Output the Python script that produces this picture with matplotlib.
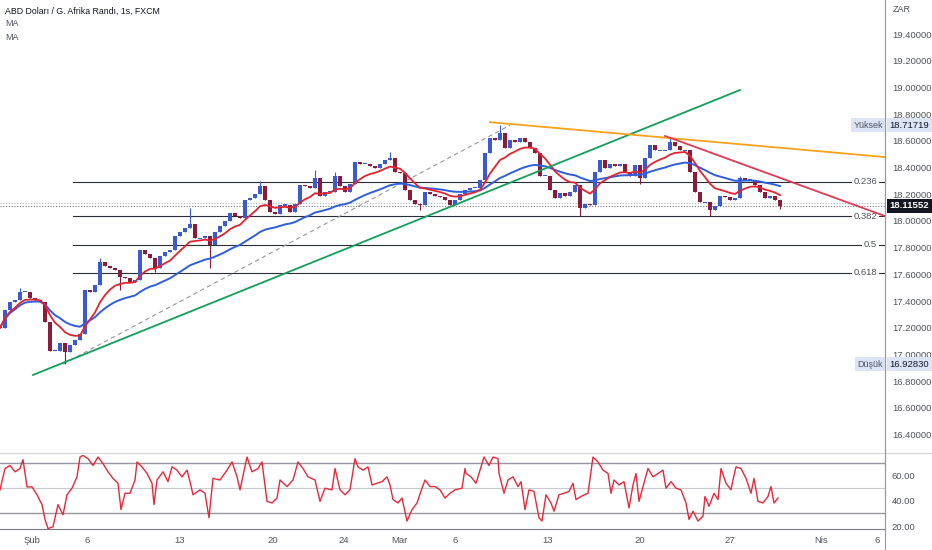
import numpy as np
import pandas as pd
import matplotlib
matplotlib.use("Agg")
import matplotlib.pyplot as plt
from matplotlib.lines import Line2D
from matplotlib.transforms import blended_transform_factory

plt.rcParams['font.family'] = ['Liberation Sans', 'DejaVu Sans']

# sampled closes, one every 5 time units (approx. 6 hourly candles)
closes = [17.20, 17.33, 17.39, 17.41, 17.47, 17.47, 17.42, 17.41, 17.39, 17.24,
          17.03, 17.03, 17.09, 17.02, 17.07, 17.11, 17.15, 17.48, 17.47, 17.52,
          17.69, 17.66, 17.65, 17.63, 17.58, 17.57, 17.54, 17.56, 17.78, 17.75,
          17.72, 17.65, 17.74, 17.77, 17.78, 17.89, 17.92, 17.95, 17.98, 17.87,
          17.87, 17.89, 17.82, 17.92, 17.96, 18.00, 18.06, 18.04, 18.02, 18.16,
          18.17, 18.20, 18.26, 18.16, 18.07, 18.05, 18.12, 18.12, 18.07, 18.13,
          18.27, 18.26, 18.25, 18.32, 18.19, 18.22, 18.22, 18.34, 18.26, 18.22,
          18.28, 18.44, 18.43, 18.43, 18.41, 18.40, 18.43, 18.46, 18.47, 18.37,
          18.36, 18.23, 18.16, 18.13, 18.12, 18.22, 18.20, 18.19, 18.18, 18.16,
          18.12, 18.16, 18.20, 18.23, 18.25, 18.25, 18.31, 18.51, 18.62, 18.61,
          18.66, 18.55, 18.61, 18.59, 18.62, 18.59, 18.55, 18.51, 18.34, 18.34,
          18.23, 18.17, 18.21, 18.19, 18.22, 18.27, 18.10, 18.13, 18.12, 18.37,
          18.46, 18.40, 18.43, 18.41, 18.43, 18.37, 18.34, 18.42, 18.32, 18.47,
          18.57, 18.53, 18.53, 18.53, 18.59, 18.56, 18.53, 18.53, 18.37, 18.22,
          18.14, 18.14, 18.08, 18.11, 18.19, 18.18, 18.16, 18.17, 18.32, 18.31,
          18.31, 18.27, 18.22, 18.17, 18.19, 18.16, 18.11552]

# wick extremes (sample index -> price)
wick_highs = {4: 17.50, 20: 17.72, 38: 18.10, 52: 18.30, 63: 18.38, 67: 18.37,
              78: 18.52, 100: 18.71719, 134: 18.62, 148: 18.34}
wick_lows = {13: 16.9283, 24: 17.48, 31: 17.62, 42: 17.65, 84: 18.08,
             116: 18.04, 128: 18.28, 142: 18.04, 156: 18.09}

rsi_t = [0, 5, 10, 15, 20, 23, 27, 32, 37, 42, 45, 48, 53, 58, 63, 67, 72, 77, 80, 83,
         88, 93, 98, 103, 108, 113, 118, 121, 125, 130, 135, 137, 142, 147, 152, 154,
         157, 163, 168, 172, 177, 182, 187, 190, 193, 200, 205, 209, 213, 220, 227,
         232, 237, 240, 247, 252, 258, 262, 267, 272, 277, 280, 287, 293, 298, 303,
         308, 315, 320, 325, 332, 335, 340, 345, 350, 355, 358, 363, 368, 372, 377,
         382, 387, 390, 393, 398, 402, 407, 412, 417, 422, 425, 430, 435, 440, 445,
         450, 455, 462, 465, 466, 471, 476, 481, 484, 489, 493, 498, 499, 504, 508,
         513, 518, 521, 525, 529, 534, 539, 542, 546, 551, 554, 559, 564, 569, 573,
         576, 581, 588, 593, 598, 603, 608, 611, 614, 619, 624, 629, 633, 636, 639,
         644, 648, 653, 658, 663, 666, 671, 676, 681, 686, 689, 693, 698, 703, 705,
         709, 714, 718, 721, 726, 731, 733, 736, 741, 746, 751, 754, 758, 763, 768,
         771, 774, 778]
rsi_v = [48.7, 65.6, 68, 63, 65.6, 72.6, 51, 51, 44.8, 37, 25.3, 18, 19.5, 37, 29, 44.8,
         50, 59, 74.7, 76, 73.4, 68, 74.7, 69.5, 63, 57.8, 53.9, 33, 46, 46, 56.5, 70.8,
         66.9, 61.7, 53.9, 37, 56.5, 63, 55.2, 66.9, 64.3, 59, 64.3, 55.2, 44.8, 48.7,
         46, 26.6, 57.8, 56.5, 64.3, 70.8, 59, 48.7, 74.7, 63, 65.6, 70.8, 39.6, 38.3,
         42.2, 56.5, 51.3, 56.5, 70.8, 65.6, 59, 56.5, 39.6, 50, 48.7, 65.6, 48.7, 44.8,
         48.7, 73.4, 66.9, 64.3, 66.9, 52.6, 53.9, 55.2, 59, 52.6, 41, 38.3, 42.2, 24,
         33, 38.3, 50, 56.5, 51.3, 51.3, 48.7, 42.2, 46, 48.7, 50, 65.6, 61.7, 59, 53.9,
         66.9, 74.7, 68, 74.7, 73.4, 61.7, 46, 56.5, 59, 51.3, 55.2, 33, 48.7, 47.4,
         26.6, 24, 44.8, 38.3, 31.8, 44.8, 46, 47.4, 53.9, 41, 43.5, 46, 74.7, 70.8,
         64.3, 61.7, 46, 56.5, 52.6, 55.2, 34.4, 52.6, 61.7, 39.6, 53.9, 65.6, 59,
         61.7, 64.3, 50, 55.2, 50, 48.7, 38.3, 25.3, 31.8, 24, 27.9, 43.5, 35.7, 46,
         41, 65.6, 53.9, 48.7, 56.5, 66.9, 65.6, 57.8, 46, 57.8, 39.6, 38.3, 43.5,
         51.3, 38.3, 42.2]

tick_pos = [32, 87, 180, 273, 344, 399, 455, 548, 640, 730, 821, 877]
tick_lab = ['Şub', '6', '13', '20', '24', 'Mar', '6', '13', '20', '27', 'Nis', '6']

fib_ratios = [0.236, 0.382, 0.5, 0.618]
fib_start = 73

green_line = ([33, 740], [16.847, 18.981])
orange_line = ([490, 885], [18.740, 18.479])
red_line = ([665, 885], [18.637, 18.037])
fib_diag = ([63, 510], [16.9283, 18.71719])

ccy = 'ZAR'
title = 'ABD Doları / G. Afrika Randı, 1s, FXCM'

# ----------------------------------------------------------------------
t = np.arange(len(closes)) * 5
c = np.array(closes)
o = np.r_[c[0], c[:-1]]
hi = np.maximum(o, c)
lo = np.minimum(o, c)
for k, v in wick_highs.items():
    hi[k] = max(hi[k], v)
for k, v in wick_lows.items():
    lo[k] = min(lo[k], v)

ma_fast = pd.Series(c).ewm(span=9).mean()
ma_slow = pd.Series(c).ewm(span=28).mean()

W, H = 932, 550
xr = 885 / W
fig = plt.figure(figsize=(W / 100, H / 100), dpi=100)
ax = fig.add_axes([0, 98 / H, xr, 452 / H])
rax = fig.add_axes([0, 21 / H, xr, 74 / H], sharex=ax)

XMAX = 885
ax.set_xlim(0, XMAX)
ax.set_ylim(16.270, 19.655)
rax.set_ylim(17.7, 76.3)

txt = '#131722'
gray = '#50535e'

# candles
col = np.where(c >= o, '#3a5bcf', '#8c1a3c')
body = np.abs(c - o)
body_h = np.maximum(body, 0.008)
body_b = np.minimum(o, c) - (body_h - body) / 2
ax.vlines(t, lo, hi, colors=col, lw=0.8, zorder=3)
ax.bar(t, body_h, bottom=body_b, width=3.6, color=col, zorder=3, linewidth=0)

ax.plot(t, ma_slow, color='#2f5fe0', lw=1.4, zorder=4)
ax.plot(t, ma_fast, color='#e5232f', lw=1.3, zorder=5)

# fibonacci retracement
p_hi = hi.max()
p_lo = lo.min()
for r in fib_ratios:
    lvl = p_hi - r * (p_hi - p_lo)
    ax.plot([fib_start, XMAX], [lvl, lvl], color='#2a2e39', lw=0.8, zorder=2)
    ax.text(877, lvl, f'{r:g}', ha='right', va='center', fontsize=6.8, color=gray,
            bbox=dict(facecolor='white', edgecolor='none', pad=1.2), zorder=6)
ax.plot(*fib_diag, color='#9598a1', lw=0.8, ls=(0, (4, 3)), zorder=2)

ax.plot(*green_line, color='#12a05c', lw=1.3, zorder=6)
ax.plot(*orange_line, color='#f7a21b', lw=1.3, zorder=6)
ax.plot(*red_line, color='#e23a53', lw=1.3, zorder=6)

last = closes[-1]
ax.axhline(last, color='#787b86', lw=0.8, ls=(0, (1, 1.5)), zorder=1)
ax.axhline(last + 0.02, color='#b2b5be', lw=0.8, ls=(0, (1, 1.5)), zorder=1)

# price axis
ax.yaxis.tick_right()
yt = np.round(np.arange(16.4, 19.41, 0.2), 1)
ax.set_yticks(yt)
ax.set_yticklabels([f'{v:.5f}' for v in yt])
ax.tick_params(axis='y', length=0, pad=5, labelsize=6.8, labelcolor=gray)
ax.tick_params(axis='x', length=0, labelbottom=False)
for s in ['top', 'left', 'bottom']:
    ax.spines[s].set_visible(False)
ax.spines['right'].set_color('#9598a1')

tr = blended_transform_factory(ax.transAxes, ax.transData)
lab_bg = '#dbe5f5'
ax.text(883, p_hi, 'Yüksek', ha='right', va='center', fontsize=6.5, color=gray,
        bbox=dict(facecolor=lab_bg, edgecolor='none', pad=1.8), zorder=7)
ax.text(1.005, p_hi, f'{p_hi:.5f}', transform=tr, ha='left', va='center', fontsize=6.8,
        color=txt, clip_on=False, bbox=dict(facecolor=lab_bg, edgecolor='none', pad=1.8))
ax.text(883, p_lo, 'Düşük', ha='right', va='center', fontsize=6.5, color=gray,
        bbox=dict(facecolor=lab_bg, edgecolor='none', pad=1.8), zorder=7)
ax.text(1.005, p_lo, f'{p_lo:.5f}', transform=tr, ha='left', va='center', fontsize=6.8,
        color=txt, clip_on=False, bbox=dict(facecolor=lab_bg, edgecolor='none', pad=1.8))
ax.text(1.005, last, f'{last:.5f}', transform=tr, ha='left', va='center', fontsize=6.8,
        color='white', fontweight='bold', clip_on=False,
        bbox=dict(facecolor=txt, edgecolor='none', pad=1.8))
ax.text(1.009, 0.979, ccy, transform=ax.transAxes, ha='left', va='center', fontsize=6.5,
        color=gray, clip_on=False)

# RSI panel
rax.plot(rsi_t, rsi_v, color='#e8283a', lw=1.0, zorder=3)
rax.axhline(70, color='#9598a1', lw=1.0)
rax.axhline(50, color='#c8cad0', lw=0.8)
rax.axhline(30, color='#9598a1', lw=1.0)
rax.yaxis.tick_right()
rax.set_yticks([20, 40, 60])
rax.set_yticklabels(['20.00', '40.00', '60.00'])
rax.tick_params(axis='y', length=0, pad=5, labelsize=6.8, labelcolor=gray)
rax.set_xticks(tick_pos)
rax.set_xticklabels(tick_lab)
rax.tick_params(axis='x', length=0, pad=5, labelsize=6.8, labelcolor=gray)
for s in ['top', 'left']:
    rax.spines[s].set_visible(False)
rax.spines['right'].set_color('#9598a1')
rax.spines['bottom'].set_color('#787b86')

fig.add_artist(Line2D([0, 1], [1 - 453 / H, 1 - 453 / H], color='#d1d4dc', lw=0.8))
fig.add_artist(Line2D([xr, xr], [0, 1], color='#9598a1', lw=0.8))

fig.text(5 / W, 1 - 11 / H, title, fontsize=6.3, color=txt, va='center')
fig.text(5 / W, 1 - 24 / H, 'MA', fontsize=6.5, color=gray, va='center')
fig.text(5 / W, 1 - 37 / H, 'MA', fontsize=6.5, color=gray, va='center')

fig.savefig('out.png', dpi=100, facecolor='white')
